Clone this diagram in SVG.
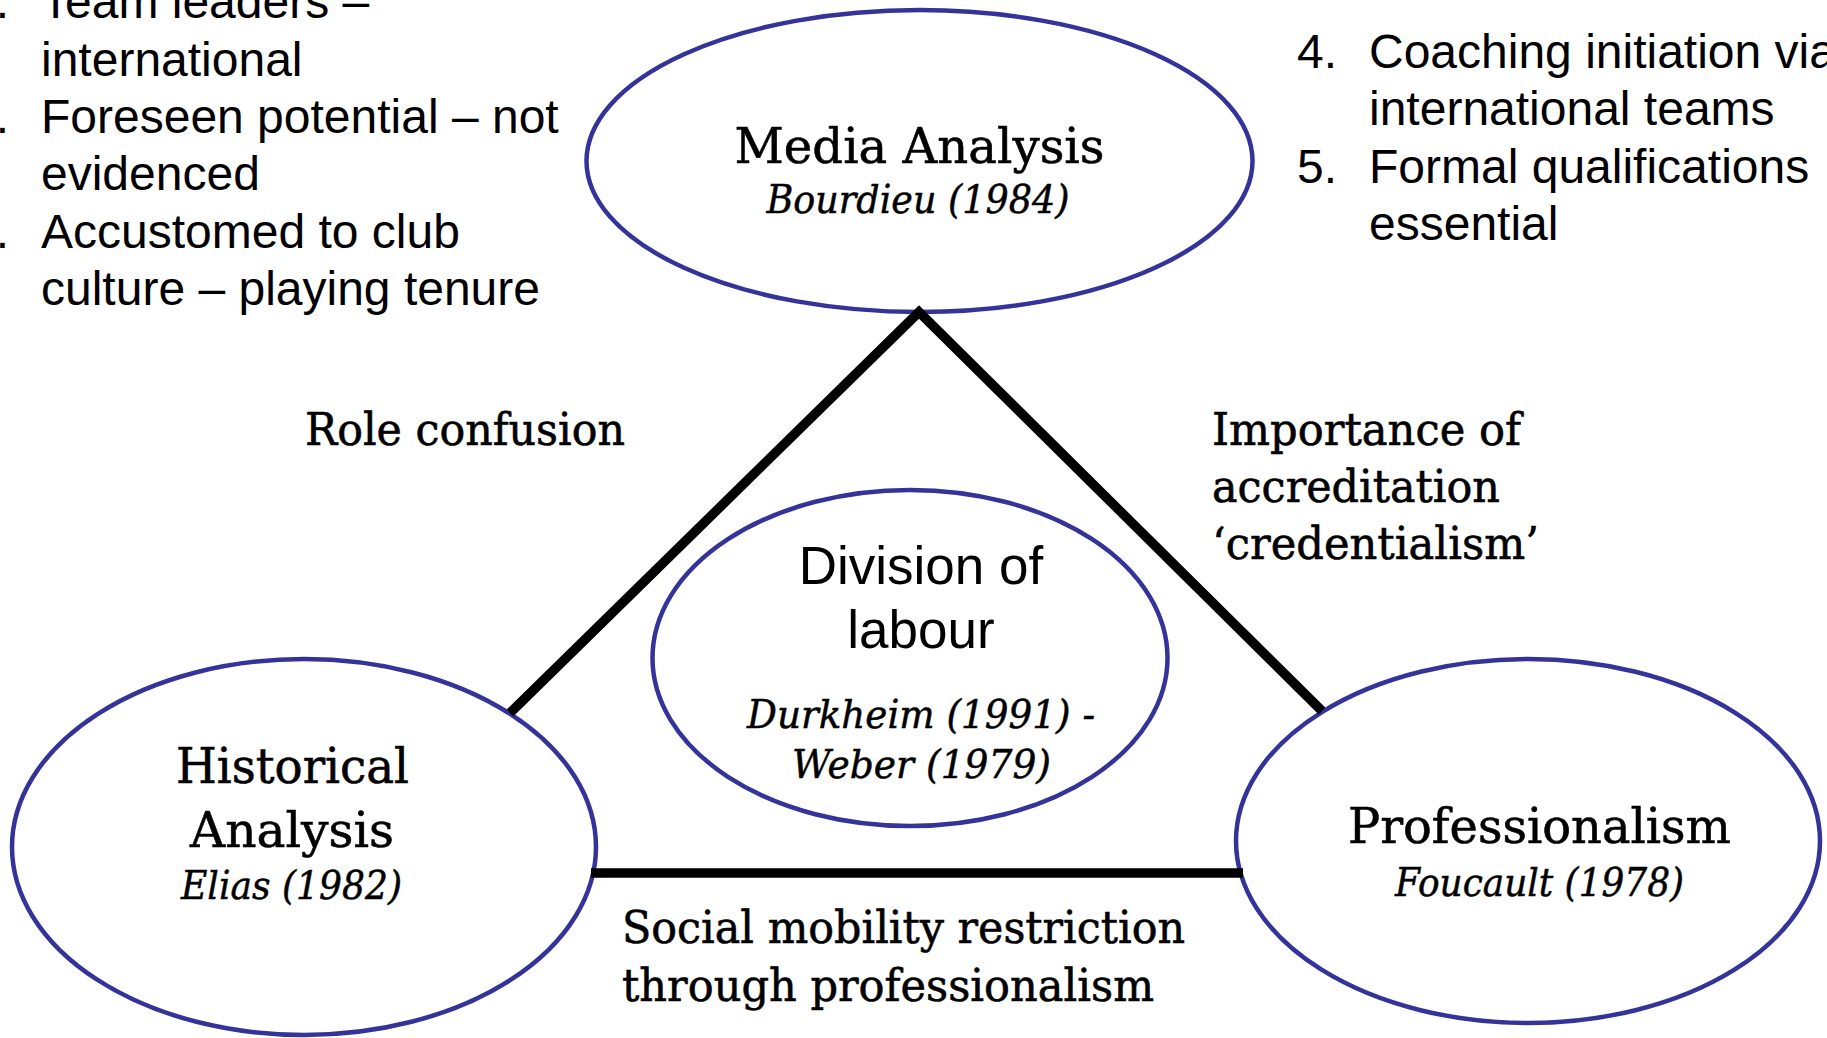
<svg xmlns="http://www.w3.org/2000/svg" width="1827" height="1038" viewBox="0 0 1827 1038">
<style>
.node{fill:#fff;stroke:#333399;stroke-width:4.5}
.conn{fill:none;stroke:#000;stroke-width:9.5;stroke-linejoin:miter;stroke-miterlimit:10}
.title{font-family:"DejaVu Serif","Liberation Serif",serif;font-size:49px;fill:#000;stroke:#000;stroke-width:0.6;text-anchor:middle}
.cite{font-family:"DejaVu Serif","Liberation Serif",serif;font-style:italic;font-size:39px;fill:#000;stroke:#000;stroke-width:0.5;text-anchor:middle}
.edge{font-family:"DejaVu Serif","Liberation Serif",serif;font-size:45px;fill:#000;stroke:#000;stroke-width:0.6}
.sans{font-family:"Liberation Sans",Arial,sans-serif;fill:#000}
.list{font-size:48px}
.div{font-size:53px;text-anchor:middle}
</style>
<rect width="1827" height="1038" fill="#fff"/>

<g id="node-media">
<ellipse class="node" cx="919.5" cy="161" rx="333" ry="151"/>
<text class="title" x="919.5" y="163" textLength="370" lengthAdjust="spacingAndGlyphs">Media Analysis</text>
<text class="cite" x="918" y="213" textLength="303" lengthAdjust="spacingAndGlyphs">Bourdieu (1984)</text>
</g>

<g id="node-historical">
<ellipse class="node" cx="304" cy="847" rx="292" ry="188"/>
<text class="title" x="292.5" y="783" textLength="233" lengthAdjust="spacingAndGlyphs">Historical</text>
<text class="title" x="292" y="847" textLength="204" lengthAdjust="spacingAndGlyphs">Analysis</text>
<text class="cite" x="291.5" y="899" textLength="221" lengthAdjust="spacingAndGlyphs">Elias (1982)</text>
</g>

<g id="node-professionalism">
<ellipse class="node" cx="1528" cy="841" rx="292" ry="182"/>
<text class="title" x="1539.5" y="843" textLength="383" lengthAdjust="spacingAndGlyphs">Professionalism</text>
<text class="cite" x="1539.5" y="896" textLength="289" lengthAdjust="spacingAndGlyphs">Foucault (1978)</text>
</g>

<g id="node-division">
<ellipse class="node" cx="910" cy="658" rx="257.5" ry="168"/>
<text class="sans div" x="921" y="584">Division of</text>
<text class="sans div" x="921" y="648">labour</text>
<text class="cite" x="921" y="728" textLength="348" lengthAdjust="spacingAndGlyphs">Durkheim (1991) -</text>
<text class="cite" x="921.5" y="778" textLength="259" lengthAdjust="spacingAndGlyphs">Weber (1979)</text>
</g>

<g id="connectors">
<polyline class="conn" points="510,713 919,312 1322,711"/>
<line class="conn" x1="591" y1="873" x2="1243" y2="873"/>
</g>

<g id="edge-labels">
<text class="edge" x="305" y="445" textLength="320" lengthAdjust="spacingAndGlyphs">Role confusion</text>
<text class="edge" x="1212" y="445" textLength="309" lengthAdjust="spacingAndGlyphs">Importance of</text>
<text class="edge" x="1212" y="502" textLength="288" lengthAdjust="spacingAndGlyphs">accreditation</text>
<text class="edge" x="1212" y="559" textLength="327" lengthAdjust="spacingAndGlyphs">‘credentialism’</text>
<text class="edge" x="622" y="943" textLength="563" lengthAdjust="spacingAndGlyphs">Social mobility restriction</text>
<text class="edge" x="622" y="1001" textLength="532" lengthAdjust="spacingAndGlyphs">through professionalism</text>
</g>

<g id="list-left" class="sans list">
<text x="-31" y="18">1.</text><text x="41" y="18">Team leaders –</text>
<text x="41" y="76">international</text>
<text x="-31" y="133">2.</text><text x="41" y="133">Foreseen potential – not</text>
<text x="41" y="190">evidenced</text>
<text x="-31" y="248">3.</text><text x="41" y="248">Accustomed to club</text>
<text x="41" y="305">culture – playing tenure</text>
</g>

<g id="list-right" class="sans list">
<text x="1297" y="68">4.</text><text x="1369" y="68">Coaching initiation via</text>
<text x="1369" y="125">international teams</text>
<text x="1297" y="183">5.</text><text x="1369" y="183">Formal qualifications</text>
<text x="1369" y="240">essential</text>
</g>
</svg>
